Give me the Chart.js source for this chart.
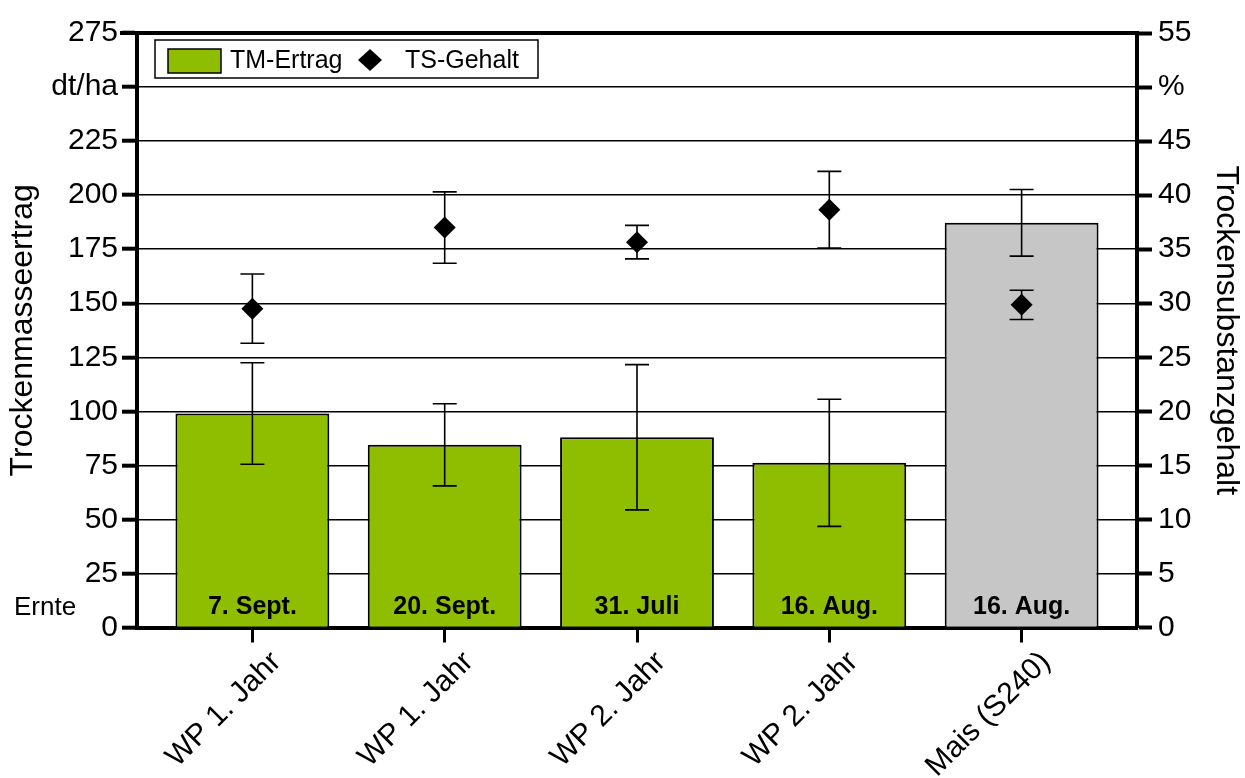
<!DOCTYPE html>
<html>
<head>
<meta charset="utf-8">
<script src="https://cdn.jsdelivr.net/npm/chart.js@4/dist/chart.umd.min.js"></script>
<style>
  html, body { margin: 0; padding: 0; background: #fff; }
  #wrap { width: 1245px; height: 778px; }
</style>
</head>
<body>
<div id="wrap"><canvas id="c" width="1245" height="778"></canvas></div>
<script>
// Varieties / harvest variants
const categories = ['WP 1. Jahr', 'WP 1. Jahr', 'WP 2. Jahr', 'WP 2. Jahr', 'Mais (S240)'];
const harvestDates = ['7. Sept.', '20. Sept.', '31. Juli', '16. Aug.', '16. Aug.'];

// Dry matter yield (dt/ha) with standard deviation
const tmYield = [99, 84.5, 88, 76.2, 187.2];
const tmYieldSd = [23.5, 19, 33.6, 29.4, 15.4];

// Dry substance content (%) with standard deviation
const tsContent = [29.5, 37.0, 35.65, 38.65, 29.85];
const tsContentSd = [3.2, 3.3, 1.55, 3.55, 1.35];

// Axis ranges
const yLeftMax = 275, yLeftStep = 25;
const yRightMax = 55, yRightStep = 5;

const GREEN = '#8fbe00';
const GREY = '#c6c6c6';
const barColors = categories.map((c, i) => i === categories.length - 1 ? GREY : GREEN);
const FONT = "'Liberation Sans', Arial, sans-serif";

function errorBar(ctx, x, yTop, yBot, cap) {
  ctx.beginPath();
  ctx.moveTo(x, yTop); ctx.lineTo(x, yBot);
  ctx.moveTo(x - cap, yTop); ctx.lineTo(x + cap, yTop);
  ctx.moveTo(x - cap, yBot); ctx.lineTo(x + cap, yBot);
  ctx.stroke();
}

const decorations = {
  id: 'decorations',
  afterDatasetsDraw(chart) {
    const { ctx, chartArea: a, scales } = chart;
    const sx = scales.x, sy = scales.y, sy2 = scales.y2;
    ctx.save();

    // harvest date labels inside the bars
    ctx.fillStyle = '#000';
    ctx.font = `bold 25px ${FONT}`;
    ctx.textAlign = 'center';
    ctx.textBaseline = 'middle';
    harvestDates.forEach((d, i) => {
      ctx.fillText(d, sx.getPixelForValue(i), sy.getPixelForValue(0) - 20);
    });
    ctx.font = `26px ${FONT}`;
    ctx.textAlign = 'left';
    ctx.fillText('Ernte', 14, sy.getPixelForValue(0) - 20);

    // error bars
    ctx.strokeStyle = '#000';
    ctx.lineWidth = 1.6;
    tmYield.forEach((v, i) => {
      const x = sx.getPixelForValue(i);
      errorBar(ctx, x, sy.getPixelForValue(v + tmYieldSd[i]), sy.getPixelForValue(v - tmYieldSd[i]), 12);
    });
    tsContent.forEach((v, i) => {
      const x = sx.getPixelForValue(i);
      errorBar(ctx, x, sy2.getPixelForValue(v + tsContentSd[i]), sy2.getPixelForValue(v - tsContentSd[i]), 12);
    });

    // top frame line
    ctx.lineWidth = 4;
    ctx.beginPath();
    ctx.moveTo(a.left - 17, a.top);
    ctx.lineTo(a.right + 2, a.top);
    ctx.stroke();

    // legend box
    const lx = a.left + 18, ly = a.top + 7, lw = 383, lh = 38;
    ctx.fillStyle = '#fff';
    ctx.fillRect(lx, ly, lw, lh);
    ctx.lineWidth = 1.5;
    ctx.strokeRect(lx, ly, lw, lh);
    ctx.fillStyle = GREEN;
    ctx.fillRect(lx + 13, ly + 9, 53, 24);
    ctx.strokeRect(lx + 13, ly + 9, 53, 24);
    const dx = lx + 215, dy = ly + 20;
    ctx.fillStyle = '#000';
    ctx.beginPath();
    ctx.moveTo(dx, dy - 11); ctx.lineTo(dx + 12, dy); ctx.lineTo(dx, dy + 11); ctx.lineTo(dx - 12, dy);
    ctx.closePath(); ctx.fill();
    ctx.font = `25px ${FONT}`;
    ctx.textAlign = 'left';
    ctx.textBaseline = 'middle';
    ctx.fillText(chart.data.datasets[0].label, lx + 75, dy + 1);
    ctx.fillText(chart.data.datasets[1].label, lx + 250, dy + 1);

    ctx.restore();
  }
};

new Chart(document.getElementById('c'), {
  data: {
    datasets: [
      {
        type: 'bar',
        label: 'TM-Ertrag',
        data: tmYield.map((v, i) => ({ x: i, y: v })),
        backgroundColor: barColors,
        borderColor: '#000',
        borderWidth: 2,
        borderSkipped: 'bottom',
        barPercentage: 1,
        categoryPercentage: 0.8,
        yAxisID: 'y',
        order: 2
      },
      {
        type: 'line',
        label: 'TS-Gehalt',
        data: tsContent.map((v, i) => ({ x: i, y: v })),
        showLine: false,
        pointStyle: 'rectRot',
        pointRadius: 11,
        pointBackgroundColor: '#000',
        pointBorderColor: '#000',
        pointBorderWidth: 0,
        yAxisID: 'y2',
        order: 1
      }
    ]
  },
  options: {
    responsive: false,
    devicePixelRatio: 1,
    animation: false,
    layout: { padding: { top: 33, left: 0, right: 0, bottom: 0 } },
    plugins: { legend: { display: false }, tooltip: { enabled: false } },
    scales: {
      x: {
        type: 'linear',
        offset: false,
        min: -0.6,
        max: categories.length - 0.4,
        afterBuildTicks: s => { s.ticks = categories.map((c, i) => ({ value: i })); },
        afterFit: s => { s.height = 150.5; },
        ticks: {
          autoSkip: false,
          maxRotation: 45,
          minRotation: 45,
          padding: 2,
          labelOffset: 24,
          color: '#000',
          font: { family: FONT, size: 30 },
          callback: v => categories[v]
        },
        grid: { display: true, offset: false, drawOnChartArea: false, drawTicks: true, tickLength: 15, tickWidth: 3, tickColor: '#000', color: '#000' },
        border: { display: true, width: 4, color: '#000' }
      },
      y: {
        position: 'left',
        min: 0,
        max: yLeftMax,
        afterFit: s => { s.width = 137; },
        ticks: {
          stepSize: yLeftStep,
          padding: 4,
          color: '#000',
          font: { family: FONT, size: 30 },
          callback: v => v === 250 ? 'dt/ha' : v
        },
        grid: { color: '#000', lineWidth: 1.4, tickLength: 15, tickWidth: 4, tickColor: '#000' },
        border: { display: true, width: 4, color: '#000' },
        title: {
          display: true,
          text: 'Trockenmasseertrag',
          color: '#000',
          font: { family: FONT, size: 32 },
          padding: { top: 4, bottom: 0 }
        }
      },
      y2: {
        position: 'right',
        min: 0,
        max: yRightMax,
        afterFit: s => { s.width = 108; },
        ticks: {
          stepSize: yRightStep,
          padding: 6,
          color: '#000',
          font: { family: FONT, size: 30 },
          callback: v => v === 50 ? '%' : v
        },
        grid: { drawOnChartArea: false, tickLength: 15, tickWidth: 4, tickColor: '#000', color: '#000' },
        border: { display: true, width: 4, color: '#000' },
        title: {
          display: true,
          text: 'Trockensubstanzgehalt',
          color: '#000',
          font: { family: FONT, size: 32 },
          padding: { top: 0, bottom: 0 }
        }
      }
    }
  },
  plugins: [decorations]
});
</script>
</body>
</html>
